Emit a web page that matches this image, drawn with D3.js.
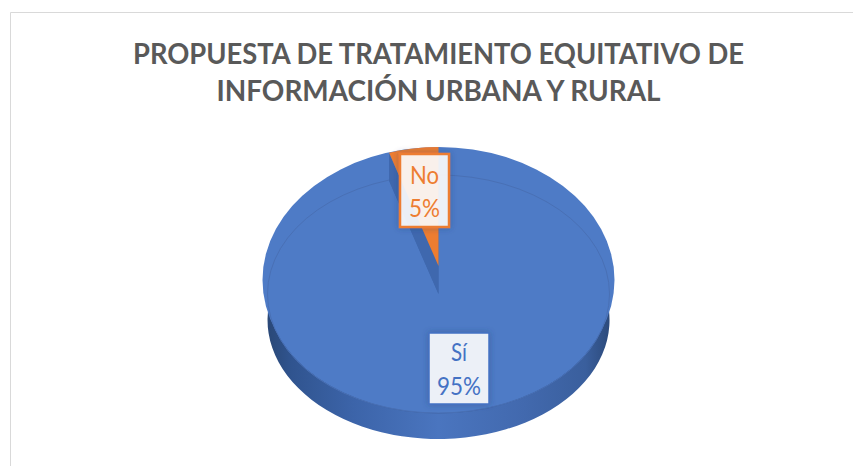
<!DOCTYPE html>
<html>
<head>
<meta charset="utf-8">
<script src="https://cdn.jsdelivr.net/npm/d3@7"></script>
<style>
  html, body { margin: 0; padding: 0; background: #fff; }
  svg { display: block; }
  text { font-family: Lato, "Open Sans", sans-serif; }
</style>
</head>
<body>
<svg id="chart"></svg>
<script>
var categories = ["Sí", "No"];
var values = [95, 5];
var percentLabels = ["95%", "5%"];
var titleLines = ["PROPUESTA DE TRATAMIENTO EQUITATIVO DE", "INFORMACIÓN URBANA Y RURAL"];

var width = 853, height = 466;
var cx = 438.5;
var blue = "#4472c4", orange = "#ed7d31";

var svg = d3.select("#chart").attr("width", width).attr("height", height);
var defs = svg.append("defs");

var sideGrad = defs.append("linearGradient").attr("id", "side");
sideGrad.selectAll("stop")
  .data([[0, "#2a4877"], [0.07, "#30548f"], [0.25, "#3c64a9"], [0.5, "#4a75bf"], [0.75, "#4269ae"], [0.93, "#3a5f9d"], [1, "#2c4a7b"]])
  .enter().append("stop")
    .attr("offset", function(d) { return d[0]; })
    .attr("stop-color", function(d) { return d[1]; });

var shadow = defs.append("filter").attr("id", "glow")
  .attr("x", "-30%").attr("y", "-30%").attr("width", "160%").attr("height", "160%");
shadow.append("feDropShadow")
  .attr("dx", 0).attr("dy", 0).attr("stdDeviation", 3)
  .attr("flood-color", "#23406f").attr("flood-opacity", 0.4);

// chart frame
svg.append("path")
  .attr("d", "M10.5," + height + "V12.5H" + width)
  .attr("fill", "none").attr("stroke", "#d9d9d9").attr("stroke-width", 1);

// title, squeezed to the Calibri line widths
var titleWidths = [611, 444];
svg.selectAll(".title")
  .data(titleLines)
  .enter().append("text")
    .attr("class", "title")
    .attr("x", 438.5)
    .attr("y", function(d, i) { return 64 + i * 37; })
    .attr("text-anchor", "middle")
    .attr("font-size", 29)
    .attr("font-weight", 700)
    .attr("fill", "#595959")
    .attr("textLength", function(d, i) { return titleWidths[i]; })
    .attr("lengthAdjust", "spacingAndGlyphs")
    .text(function(d) { return d; });

var slices = d3.pie().sort(null)(values);
var unitArc = d3.arc().innerRadius(0).outerRadius(1);
var fullDisc = d3.arc().innerRadius(0).outerRadius(1).startAngle(0).endAngle(2 * Math.PI);

function ellipseAt(y, rx, ry) {
  return "translate(" + cx + "," + y + ") scale(" + rx + "," + ry + ")";
}

// side wall
svg.append("g").attr("transform", ellipseAt(320, 171, 119))
  .selectAll("path")
  .data(slices)
  .enter().append("path")
    .attr("d", unitArc)
    .attr("fill", "url(#side)");

// raised top face: outer edge plus the rim ellipse
svg.append("g").attr("transform", ellipseAt(294, 171, 119))
  .append("path")
    .attr("d", fullDisc)
    .attr("fill", "#4e7bc6")
    .attr("stroke", "#3a5f9e")
    .attr("stroke-width", 1)
    .attr("vector-effect", "non-scaling-stroke");
svg.append("g").attr("transform", ellipseAt(280, 176, 133))
  .append("path")
    .attr("d", fullDisc)
    .attr("fill", "#4e7bc6");

// thin rim line on the top face
svg.append("g").attr("transform", ellipseAt(294, 171, 119))
  .append("path")
    .attr("d", fullDisc)
    .attr("fill", "none")
    .attr("stroke", "#4970b5")
    .attr("stroke-width", 1)
    .attr("vector-effect", "non-scaling-stroke");

// No slice: notch wall, then the lifted wedge
var noSlice = slices[1];
var wedgeRx = 160, wedgeRy = 119, liftedY = 266, baseY = 294;
var edgeX = cx + wedgeRx * Math.sin(noSlice.startAngle);
var edgeDy = wedgeRy * Math.cos(noSlice.startAngle);

svg.append("path")
  .datum([[cx, baseY], [edgeX, baseY - edgeDy], [edgeX, liftedY - edgeDy], [cx, liftedY]])
  .attr("d", d3.line())
  .attr("fill", "#3f68ae");
svg.append("g").attr("transform", ellipseAt(baseY, wedgeRx, wedgeRy))
  .append("path")
    .datum(noSlice)
    .attr("d", unitArc)
    .attr("fill", "#3f68ae");
svg.append("g").attr("transform", ellipseAt(liftedY, wedgeRx, wedgeRy))
  .append("path")
    .datum(noSlice)
    .attr("d", unitArc)
    .attr("fill", orange);

// data labels
var labelBoxes = [
  { x: 429, y: 333, w: 60, h: 71, color: blue, sw: 1.5, line1: 361, line2: 395, w1: 16, w2: 44 },
  { x: 400, y: 154, w: 49, h: 73, color: orange, sw: 2.5, line1: 184, line2: 217, w1: 29, w2: 31 }
];
var labels = svg.selectAll(".label")
  .data(labelBoxes)
  .enter().append("g")
    .attr("class", "label");
labels.append("rect")
  .attr("x", function(d) { return d.x; })
  .attr("y", function(d) { return d.y; })
  .attr("width", function(d) { return d.w; })
  .attr("height", function(d) { return d.h; })
  .attr("fill", "#fff")
  .attr("fill-opacity", 0.88)
  .attr("stroke", function(d) { return d.color; })
  .attr("stroke-width", function(d) { return d.sw; })
  .attr("filter", "url(#glow)");
labels.append("text")
  .attr("x", function(d) { return d.x + d.w / 2; })
  .attr("y", function(d) { return d.line1; })
  .attr("text-anchor", "middle")
  .attr("font-size", 25)
  .attr("fill", function(d) { return d.color; })
  .attr("textLength", function(d) { return d.w1; })
  .attr("lengthAdjust", "spacingAndGlyphs")
  .text(function(d, i) { return categories[i]; });
labels.append("text")
  .attr("x", function(d) { return d.x + d.w / 2; })
  .attr("y", function(d) { return d.line2; })
  .attr("text-anchor", "middle")
  .attr("font-size", 25)
  .attr("fill", function(d) { return d.color; })
  .attr("textLength", function(d) { return d.w2; })
  .attr("lengthAdjust", "spacingAndGlyphs")
  .text(function(d, i) { return percentLabels[i]; });
</script>
</body>
</html>
